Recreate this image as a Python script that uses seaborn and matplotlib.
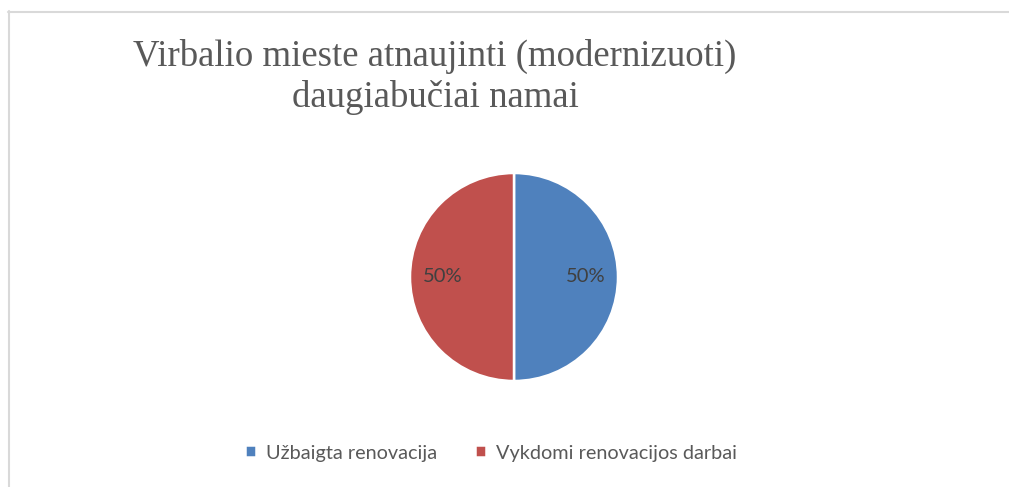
import matplotlib
matplotlib.use("Agg")
import matplotlib.pyplot as plt
import seaborn as sns
from matplotlib.lines import Line2D

# data
categories = ["Užbaigta renovacija", "Vykdomi renovacijos darbai"]
shares = [50, 50]
colors = ["#4F81BD", "#C0504D"]
title = "Virbalio mieste atnaujinti (modernizuoti)\ndaugiabučiai namai"

sns.set_theme(style="white")
plt.rcParams['font.family'] = ['Lato', 'DejaVu Sans']

W, H = 1009, 487
fig = plt.figure(figsize=(W / 100, H / 100), dpi=100)
fig.patch.set_facecolor("white")

# pie axes: center (514, 277) px, radius 104 px
cx, cy, r = 514, 277, 104
ax = fig.add_axes([(cx - r) / W, (H - cy - r) / H, 2 * r / W, 2 * r / H])
wedges, texts, autotexts = ax.pie(
    shares, colors=colors, startangle=90, counterclock=False,
    autopct='%1.0f%%', pctdistance=0.69,
    wedgeprops=dict(edgecolor="white", linewidth=1.8),
    textprops=dict(color="#404040", fontsize=14.5),
)
ax.set_xlim(-1, 1)
ax.set_ylim(-1, 1)
ax.set_aspect("auto")
ax.axis("off")

# title
fig.text(435 / W, 1 - 39 / H, title, ha="center", va="top",
         fontsize=26.5, color="#595959", family=["Liberation Serif", "DejaVu Serif"],
         linespacing=1.22)

# legend
fig.legend(wedges, categories, loc="center", bbox_to_anchor=(491 / W, 1 - 453 / H),
           ncol=2, frameon=False, fontsize=14.3, labelcolor="#595959",
           handlelength=0.55, handleheight=0.55, handletextpad=0.5,
           columnspacing=1.95)

# thin frame around the chart area (top and left edges visible)
fig.add_artist(Line2D([8.5 / W, 8.5 / W], [0, 1 - 11 / H], color="#d9d9d9", linewidth=1.5))
fig.add_artist(Line2D([8 / W, 1], [1 - 11.5 / H, 1 - 11.5 / H], color="#d9d9d9", linewidth=1.5))

fig.savefig("out.png", dpi=100)
